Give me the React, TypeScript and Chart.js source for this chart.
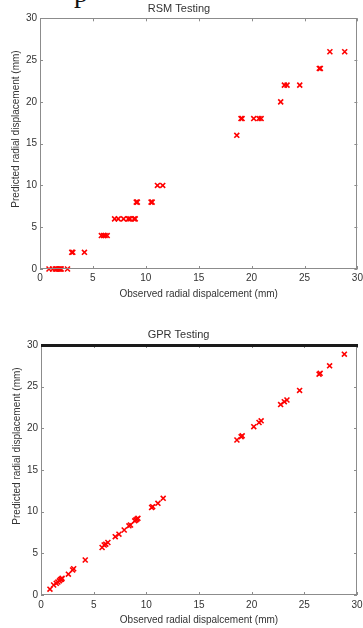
import React, { useEffect, useRef } from 'react';
import { Chart, registerables } from 'chart.js';
Chart.register(...registerables);

// Observed radial displacement (mm) of the test samples
const observed = [0.85, 1.2, 1.45, 1.6, 1.75, 1.85, 1.95, 2.0, 2.6, 3.0, 3.1, 4.2, 5.8, 6.0, 6.15, 6.35, 7.05, 7.4, 7.9, 8.35, 8.5, 8.9, 9.0, 9.1, 9.2, 10.5, 10.6, 11.1, 11.6, 18.6, 19.0, 19.1, 20.2, 20.7, 20.9, 22.75, 23.1, 23.35, 24.55, 26.4, 26.5, 27.4, 28.8];
// RSM predicted radial displacement (mm)
const rsmPredicted = [0, 0, 0, 0, 0, 0, 0, 0, 0, 2, 2, 2, 4, 4, 4, 4, 6, 6, 6, 6, 6, 6, 6, 8, 8, 8, 8, 10, 10, 16, 18, 18, 18, 18, 18, 20, 22, 22, 22, 24, 24, 26, 26];
// GPR predicted radial displacement (mm)
const gprPredicted = [0.7, 1.2, 1.4, 1.55, 1.7, 1.85, 1.9, 2.0, 2.5, 3.0, 3.15, 4.2, 5.7, 6.0, 6.1, 6.3, 7.0, 7.3, 7.8, 8.3, 8.4, 8.9, 9.0, 9.1, 9.2, 10.5, 10.6, 11.0, 11.6, 18.6, 19.0, 19.1, 20.2, 20.7, 20.9, 22.85, 23.2, 23.4, 24.55, 26.5, 26.6, 27.5, 28.9];

const axisMin = 0;
const axisMax = 30;
const tickStep = 5;
const xTitle = 'Observed radial dispalcement (mm)';
const yTitle = 'Predicted radial displacement (mm)';
const titles = ['RSM Testing', 'GPR Testing'];

const FONT = "'Liberation Sans', Arial, Helvetica, sans-serif";
const TEXT = '#333333';

const boxPlugin = {
  id: 'matlabBox',
  afterDraw(chart: any, _args: any, opts: any) {
    const { ctx, chartArea, scales } = chart;
    const { left, right, top, bottom } = chartArea;
    const x = scales.x;
    const y = scales.y;
    const len = 3;
    ctx.save();
    ctx.strokeStyle = opts.color || '#8c8c8c';
    ctx.lineWidth = 1;
    ctx.beginPath();
    x.ticks.forEach((t: any) => {
      const px = Math.round(x.getPixelForValue(t.value)) + 0.5;
      ctx.moveTo(px, bottom);
      ctx.lineTo(px, bottom - len);
      ctx.moveTo(px, top);
      ctx.lineTo(px, top + len);
    });
    y.ticks.forEach((t: any) => {
      const py = Math.round(y.getPixelForValue(t.value)) + 0.5;
      ctx.moveTo(left, py);
      ctx.lineTo(left + len, py);
      ctx.moveTo(right, py);
      ctx.lineTo(right - len, py);
    });
    ctx.stroke();
    ctx.strokeRect(Math.round(left) + 0.5, Math.round(top) + 0.5, Math.round(right - left) - 1, Math.round(bottom - top) - 1);
    if (opts.thickTop) {
      ctx.strokeStyle = '#1a1a1a';
      ctx.lineWidth = 3;
      ctx.beginPath();
      ctx.moveTo(left, top + 0.5);
      ctx.lineTo(right + 1, top + 0.5);
      ctx.stroke();
    }
    // y-axis title (placed like the original, slightly above the axis centre)
    if (opts.yTitle) {
      ctx.fillStyle = TEXT;
      ctx.font = `10px ${FONT}`;
      ctx.textAlign = 'center';
      ctx.textBaseline = 'middle';
      ctx.translate(opts.yTitleX, opts.yTitleY);
      ctx.rotate(-Math.PI / 2);
      ctx.fillText(opts.yTitle, 0, 0);
    }
    ctx.restore();
  },
};

type Cfg = {
  title: string;
  predicted: number[];
  yWidth: number;
  xHeight: number;
  titlePad: { top: number; bottom: number };
  yTitleX: number;
  yTitleY: number;
  xTickPad: number;
  xTitlePadBottom: number;
  rightPad: number;
  thickTop: boolean;
};

function makeChart(canvas: HTMLCanvasElement, c: Cfg) {
  const points = observed.map((o, i) => ({ x: o, y: c.predicted[i] }));
  return new Chart(canvas, {
    type: 'scatter',
    data: {
      datasets: [
        {
          data: points,
          pointStyle: 'crossRot',
          radius: 3.5,
          borderWidth: 1.6,
          borderColor: '#ff0000',
          backgroundColor: '#ff0000',
          clip: false,
        },
      ],
    },
    options: {
      responsive: false,
      animation: false,
      events: [],
      layout: { padding: { left: 0, right: c.rightPad, top: 0, bottom: 0 } },
      plugins: {
        legend: { display: false },
        tooltip: { enabled: false },
        title: {
          display: true,
          text: c.title,
          color: TEXT,
          font: { family: FONT, size: 11, weight: 'normal' },
          padding: c.titlePad,
        },
        // @ts-ignore
        matlabBox: { color: '#8c8c8c', thickTop: c.thickTop, yTitle, yTitleX: c.yTitleX, yTitleY: c.yTitleY },
      },
      scales: {
        x: {
          type: 'linear',
          min: axisMin,
          max: axisMax,
          grid: { display: false, drawTicks: false },
          border: { display: false },
          ticks: { stepSize: tickStep, color: TEXT, padding: c.xTickPad, font: { family: FONT, size: 10 }, maxRotation: 0 },
          title: {
            display: true,
            text: xTitle,
            color: TEXT,
            font: { family: FONT, size: 10 },
            padding: { top: 0, bottom: c.xTitlePadBottom },
          },
          afterFit: (s: any) => {
            s.height = c.xHeight;
            s.paddingRight = 0;
            s.paddingLeft = 0;
          },
        },
        y: {
          type: 'linear',
          min: axisMin,
          max: axisMax,
          grid: { display: false, drawTicks: false },
          border: { display: false },
          ticks: { stepSize: tickStep, color: TEXT, padding: 3, font: { family: FONT, size: 10 } },
          title: { display: false, text: yTitle },
          afterFit: (s: any) => {
            s.width = c.yWidth;
            s.paddingTop = 0;
            s.paddingBottom = 0;
          },
        },
      },
    },
    plugins: [boxPlugin],
  } as any);
}

function Panel({ cfg, top, height }: { cfg: Cfg; top: number; height: number }) {
  const ref = useRef<HTMLCanvasElement>(null);
  useEffect(() => {
    if (!ref.current) return;
    const ch = makeChart(ref.current, cfg);
    return () => ch.destroy();
  }, []);
  return (
    <canvas
      ref={ref}
      width={363}
      height={height}
      style={{ position: 'absolute', left: 0, top, width: 363, height, display: 'block' }}
    />
  );
}

export default function App() {
  const cfg1: Cfg = {
    title: titles[0],
    predicted: rsmPredicted,
    yWidth: 40,
    xHeight: 41,
    titlePad: { top: 2.4, bottom: 2.7 },
    yTitleX: 16,
    yTitleY: 129,
    xTickPad: 3,
    xTitlePadBottom: 10,
    rightPad: 5,
    thickTop: false,
  };
  const cfg2: Cfg = {
    title: titles[1],
    predicted: gprPredicted,
    yWidth: 41,
    xHeight: 33,
    titlePad: { top: 14, bottom: 3.8 },
    yTitleX: 17.5,
    yTitleY: 132,
    xTickPad: 4,
    xTitlePadBottom: 1.7,
    rightPad: 6,
    thickTop: true,
  };
  return (
    <div style={{ position: 'fixed', left: 0, top: 0, width: 363, height: 628, background: '#ffffff', overflow: 'hidden' }}>
      <div
        style={{
          position: 'absolute',
          left: 74,
          top: -21,
          fontFamily: "'Liberation Serif', 'Times New Roman', serif",
          fontSize: 28,
          lineHeight: 1,
          color: '#111',
        }}
      >
        p
      </div>
      <Panel cfg={cfg1} top={0} height={310} />
      <Panel cfg={cfg2} top={314} height={314} />
    </div>
  );
}
